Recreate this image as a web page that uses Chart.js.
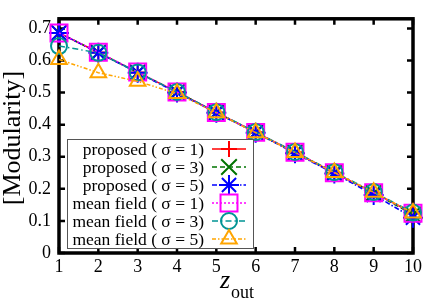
<!DOCTYPE html>
<html>
<head>
<meta charset="utf-8">
<script src="https://cdn.jsdelivr.net/npm/chart.js@4/dist/chart.umd.min.js"></script>
<style>
  html, body { margin: 0; padding: 0; background: #fff; }
</style>
</head>
<body>
<canvas id="modChart" width="436" height="305"></canvas>
<script>
// values
var zOut = [1, 2, 3, 4, 5, 6, 7, 8, 9, 10];
var proposedS1 = [0.686, 0.625, 0.563, 0.502, 0.438, 0.376, 0.314, 0.250, 0.188, 0.124];
var proposedS3 = [0.686, 0.625, 0.563, 0.502, 0.438, 0.376, 0.313, 0.250, 0.187, 0.120];
var proposedS5 = [0.686, 0.624, 0.562, 0.500, 0.437, 0.375, 0.311, 0.248, 0.181, 0.110];
var meanS1 = [0.686, 0.626, 0.564, 0.502, 0.438, 0.376, 0.314, 0.250, 0.188, 0.124];
var meanS3 = [0.645, 0.624, 0.563, 0.502, 0.439, 0.377, 0.315, 0.252, 0.190, 0.126];
var meanS5 = [0.603, 0.562, 0.535, 0.497, 0.437, 0.375, 0.313, 0.251, 0.189, 0.125];
var yTickValues = [0, 0.1, 0.2, 0.3, 0.4, 0.5, 0.6, 0.7];
var xTickValues = [1, 2, 3, 4, 5, 6, 7, 8, 9, 10];

var seriesLabels = ['proposed ( \u03c3 = 1)', 'proposed ( \u03c3 = 3)', 'proposed ( \u03c3 = 5)',
                    'mean field ( \u03c3 = 1)', 'mean field ( \u03c3 = 3)', 'mean field ( \u03c3 = 5)'];
var seriesValues = [proposedS1, proposedS3, proposedS5, meanS1, meanS3, meanS5];
var seriesColors = ['#ff0000', '#007400', '#0000ff', '#ff00ff', '#009494', '#ffa500'];
var seriesDashes = [[], [5, 3], [5, 2, 1.5, 2], [2, 2], [6, 3, 1.5, 3], [4, 2, 1.5, 2, 1.5, 2]];
var seriesPoints = ['cross', 'crossRot', 'star', 'rect', 'circle', 'triangle'];
var seriesRadius = [8, 11, 10, 12, 8, 9];

var SERIF = '"Liberation Serif", "DejaVu Serif", serif';

function drawMarker(ctx, style, r, x, y) {
    var s, o;
    ctx.beginPath();
    if (style === 'cross') {
        ctx.moveTo(x - r, y); ctx.lineTo(x + r, y);
        ctx.moveTo(x, y - r); ctx.lineTo(x, y + r);
    } else if (style === 'crossRot') {
        o = r * Math.SQRT1_2;
        ctx.moveTo(x - o, y - o); ctx.lineTo(x + o, y + o);
        ctx.moveTo(x - o, y + o); ctx.lineTo(x + o, y - o);
    } else if (style === 'star') {
        o = r * Math.SQRT1_2;
        ctx.moveTo(x - r, y); ctx.lineTo(x + r, y);
        ctx.moveTo(x, y - r); ctx.lineTo(x, y + r);
        ctx.moveTo(x - o, y - o); ctx.lineTo(x + o, y + o);
        ctx.moveTo(x - o, y + o); ctx.lineTo(x + o, y - o);
    } else if (style === 'rect') {
        s = r * Math.SQRT1_2;
        ctx.rect(x - s, y - s, 2 * s, 2 * s);
    } else if (style === 'circle') {
        ctx.arc(x, y, r, 0, Math.PI * 2);
    } else if (style === 'triangle') {
        ctx.moveTo(x, y - r);
        ctx.lineTo(x + r * Math.sin(Math.PI / 3) , y + r / 2);
        ctx.lineTo(x - r * Math.sin(Math.PI / 3), y + r / 2);
        ctx.closePath();
    }
    ctx.stroke();
}

// gnuplot style frame with inward ticks on all four sides
var framePlugin = {
    id: 'frame',
    beforeDatasetsDraw: function (chart) {
        var ctx = chart.ctx, a = chart.chartArea;
        var xs = chart.scales.x, ys = chart.scales.y;
        ctx.save();
        ctx.strokeStyle = '#000';
        ctx.lineWidth = 2.5;
        ctx.beginPath();
        xTickValues.forEach(function (v) {
            var px = xs.getPixelForValue(v);
            ctx.moveTo(px, a.bottom); ctx.lineTo(px, a.bottom - 6);
            ctx.moveTo(px, a.top); ctx.lineTo(px, a.top + 6);
        });
        yTickValues.forEach(function (v) {
            var py = ys.getPixelForValue(v);
            ctx.moveTo(a.left, py); ctx.lineTo(a.left + 6, py);
            ctx.moveTo(a.right, py); ctx.lineTo(a.right - 6, py);
        });
        ctx.stroke();
        ctx.lineWidth = 3.5;
        ctx.strokeRect(a.left, a.top, a.right - a.left, a.bottom - a.top);
        ctx.restore();
    },
    afterDraw: function (chart) {
        var ctx = chart.ctx;
        ctx.save();
        ctx.fillStyle = '#000';
        // y title
        ctx.translate(13, 138);
        ctx.rotate(-Math.PI / 2);
        ctx.font = '26px ' + SERIF;
        ctx.textAlign = 'center';
        ctx.textBaseline = 'middle';
        ctx.fillText('[Modularity]', 0, 0);
        ctx.restore();
        // x title with subscript
        ctx.save();
        ctx.fillStyle = '#000';
        ctx.textAlign = 'left';
        ctx.textBaseline = 'alphabetic';
        ctx.font = 'italic 26px ' + SERIF;
        ctx.fillText('z', 220, 288);
        ctx.font = '18px ' + SERIF;
        ctx.fillText('out', 231, 298);
        ctx.restore();
    }
};

// key box in the lower left, text right aligned and sample on the right
var keyPlugin = {
    id: 'key',
    afterDatasetsDraw: function (chart) {
        var ctx = chart.ctx;
        ctx.save();
        ctx.fillStyle = '#fff';
        ctx.fillRect(67, 139, 186, 109);
        ctx.strokeStyle = '#555';
        ctx.lineWidth = 1;
        ctx.strokeRect(67.5, 139.5, 186, 109);
        ctx.font = '17.5px ' + SERIF;
        ctx.textAlign = 'right';
        ctx.textBaseline = 'middle';
        seriesLabels.forEach(function (lab, i) {
            var y = 149 + 18 * i;
            ctx.fillStyle = '#000';
            ctx.fillText(lab, 204, y + 1);
            ctx.strokeStyle = seriesColors[i];
            ctx.lineWidth = 1.5;
            ctx.setLineDash(seriesDashes[i]);
            ctx.beginPath();
            ctx.moveTo(212, y); ctx.lineTo(246, y);
            ctx.stroke();
            ctx.setLineDash([]);
            ctx.lineWidth = 2;
            drawMarker(ctx, seriesPoints[i], seriesRadius[i], 229, y);
        });
        ctx.restore();
    }
};

var datasets = seriesValues.map(function (vals, i) {
    return {
        label: seriesLabels[i],
        data: vals.map(function (v, k) { return { x: zOut[k], y: v }; }),
        borderColor: seriesColors[i],
        backgroundColor: 'rgba(0,0,0,0)',
        borderWidth: 1.5,
        borderDash: seriesDashes[i],
        pointStyle: seriesPoints[i],
        pointRadius: seriesRadius[i],
        pointBorderWidth: 2,
        pointBorderColor: seriesColors[i],
        pointBackgroundColor: 'rgba(0,0,0,0)',
        fill: false,
        tension: 0,
        clip: false,
        order: 5 - i
    };
});

var ctxMod = document.getElementById('modChart').getContext('2d');
var modChart = new Chart(ctxMod, {
    type: 'line',
    data: { datasets: datasets },
    options: {
        responsive: false,
        animation: false,
        devicePixelRatio: 1,
        layout: { padding: { top: 14, right: 23, left: 0, bottom: 0 } },
        plugins: { legend: { display: false }, tooltip: { enabled: false } },
        scales: {
            x: {
                type: 'linear',
                min: 1,
                max: 10,
                grid: { display: false, drawTicks: false },
                border: { display: false },
                afterBuildTicks: function (s) { s.ticks = xTickValues.map(function (v) { return { value: v }; }); },
                afterFit: function (s) { s.height = 52; },
                ticks: { color: '#000', padding: 3, maxRotation: 0, font: { family: SERIF, size: 18 } }
            },
            y: {
                min: 0,
                max: 0.73,
                grid: { display: false, drawTicks: false },
                border: { display: false },
                afterBuildTicks: function (s) { s.ticks = yTickValues.map(function (v) { return { value: v }; }); },
                afterFit: function (s) { s.width = 59; },
                ticks: {
                    color: '#000', padding: 8,
                    font: { family: SERIF, size: 18 },
                    callback: function (v) { return v === 0 ? '0' : v.toFixed(1); }
                }
            }
        }
    },
    plugins: [framePlugin, keyPlugin]
});
</script>
</body>
</html>
